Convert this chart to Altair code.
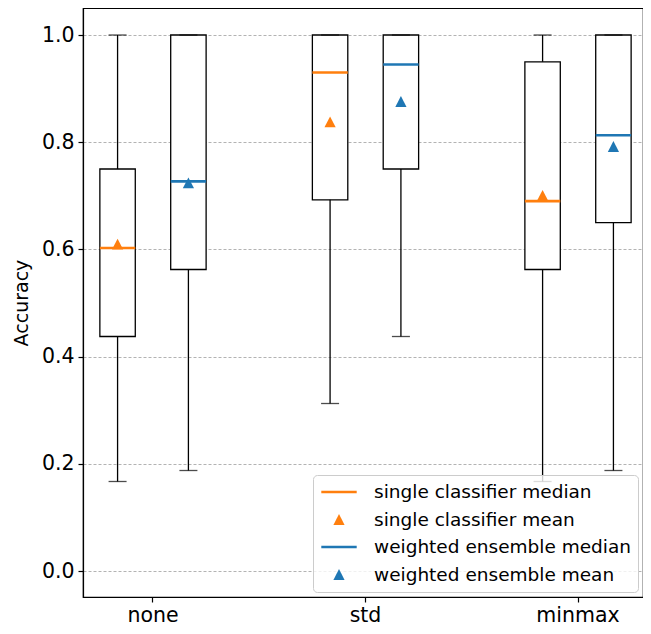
import altair as alt
import pandas as pd

# ---- data ----
groups = ["none", "std", "minmax"]
series = ["single", "weighted"]

single_lo = [0.167, 0.3125, 0.167]
single_q1 = [0.4375, 0.6925, 0.5625]
single_med = [0.6025, 0.930, 0.690]
single_q3 = [0.75, 1.0, 0.95]
single_hi = [1.0, 1.0, 1.0]
single_mean = [0.610, 0.838, 0.701]

weighted_lo = [0.1875, 0.4375, 0.1875]
weighted_q1 = [0.5625, 0.75, 0.65]
weighted_med = [0.727, 0.945, 0.813]
weighted_q3 = [1.0, 1.0, 1.0]
weighted_hi = [1.0, 1.0, 1.0]
weighted_mean = [0.724, 0.876, 0.792]

legend_labels = [
    "single classifier median",
    "single classifier mean",
    "weighted ensemble median",
    "weighted ensemble mean",
]
ORANGE = "#ff7f0e"
BLUE = "#1f77b4"
LINE_SHAPE = "M-0.885,-0.065L0.885,-0.065L0.885,0.065L-0.885,0.065Z"
TRI_SHAPE = "M0,-0.27L0.28,0.27L-0.28,0.27Z"

stats = {
    "single": (single_lo, single_q1, single_med, single_q3, single_hi, single_mean),
    "weighted": (weighted_lo, weighted_q1, weighted_med, weighted_q3, weighted_hi, weighted_mean),
}
prefix = {"single": "single classifier", "weighted": "weighted ensemble"}

box_rows, mark_rows = [], []
for s in series:
    lo, q1, med, q3, hi, mean = stats[s]
    for i, g in enumerate(groups):
        box_rows.append(dict(group=g, series=s, lo=lo[i], q1=q1[i], q3=q3[i], hi=hi[i]))
        mark_rows.append(dict(group=g, series=s, value=med[i], label=prefix[s] + " median"))
        mark_rows.append(dict(group=g, series=s, value=mean[i], label=prefix[s] + " mean"))
box_df = pd.DataFrame(box_rows)
mark_df = pd.DataFrame(mark_rows)

FONT = "DejaVu Sans"

x_enc = alt.X(
    "group:N",
    sort=groups,
    scale=alt.Scale(paddingInner=0.5, paddingOuter=0.0676, align=0.587),
    axis=alt.Axis(title=None, labelAngle=0, labelFontSize=20.5, labelPadding=3,
                  tickSize=5, tickColor="black", domainColor="black",
                  labelColor="black", labelFont=FONT),
)
xoff_enc = alt.XOffset("series:N", sort=series,
                       scale=alt.Scale(paddingInner=0.5, paddingOuter=0))
y_scale = alt.Scale(domain=[-0.0485, 1.0504], nice=False, zero=False)
y_axis = alt.Axis(title="Accuracy", values=[0, 0.2, 0.4, 0.6, 0.8, 1.0], format=".1f",
                  labelFontSize=20.5, labelPadding=4, labelColor="black", labelFont=FONT,
                  tickSize=5, tickColor="black", domainColor="black",
                  titleFontSize=19, titleFont=FONT, titleFontWeight="normal",
                  titleColor="black", titlePadding=10,
                  grid=True, gridColor="#a0a0a0", gridDash=[3, 2], gridWidth=0.8)

base = alt.Chart(box_df)

boxes = base.mark_bar(fill="white", stroke="black", strokeWidth=1.3).encode(
    x=x_enc, xOffset=xoff_enc,
    y=alt.Y("q1:Q", scale=y_scale, axis=y_axis), y2="q3:Q",
)
whisk_lo = base.mark_rule(color="black", strokeWidth=1.3).encode(
    x=x_enc, xOffset=xoff_enc, y="lo:Q", y2="q1:Q")
whisk_hi = base.mark_rule(color="black", strokeWidth=1.3).encode(
    x=x_enc, xOffset=xoff_enc, y="q3:Q", y2="hi:Q")
cap_lo = base.mark_tick(color="black", size=18, thickness=1.3).encode(
    x=x_enc, xOffset=xoff_enc, y="lo:Q")
cap_hi = base.mark_tick(color="black", size=18, thickness=1.3).encode(
    x=x_enc, xOffset=xoff_enc, y="hi:Q")

marks = alt.Chart(mark_df).mark_point(filled=True, size=1600, opacity=1, strokeWidth=0).encode(
    x=x_enc, xOffset=xoff_enc,
    y=alt.Y("value:Q"),
    color=alt.Color("label:N",
                    scale=alt.Scale(domain=legend_labels, range=[ORANGE, ORANGE, BLUE, BLUE]),
                    legend=alt.Legend(title=None, orient="bottom-right", offset=5,
                                      padding=6, labelFontSize=18.5, labelFont=FONT,
                                      labelColor="black", labelOffset=15,
                                      symbolSize=1600, symbolStrokeWidth=0,
                                      symbolOpacity=1, clipHeight=22, rowPadding=5.5,
                                      fillColor="rgba(255,255,255,0.8)", strokeColor="#cccccc",
                                      cornerRadius=4, labelLimit=400)),
    shape=alt.Shape("label:N",
                    scale=alt.Scale(domain=legend_labels,
                                    range=[LINE_SHAPE, TRI_SHAPE, LINE_SHAPE, TRI_SHAPE]),
                    legend=alt.Legend(title=None, orient="bottom-right")),
)

chart = alt.layer(boxes, whisk_lo, whisk_hi, cap_lo, cap_hi, marks).properties(
    width=560, height=589,
    autosize=alt.AutoSizeParams(type="none"),
    padding={"left": 75, "top": 0, "right": 0, "bottom": 29},
).configure_view(stroke="black", strokeWidth=1.2).configure_axis(domainWidth=1.2, tickWidth=1.2)

chart.save("out.html", embed_options={"renderer": "svg", "actions": False})
